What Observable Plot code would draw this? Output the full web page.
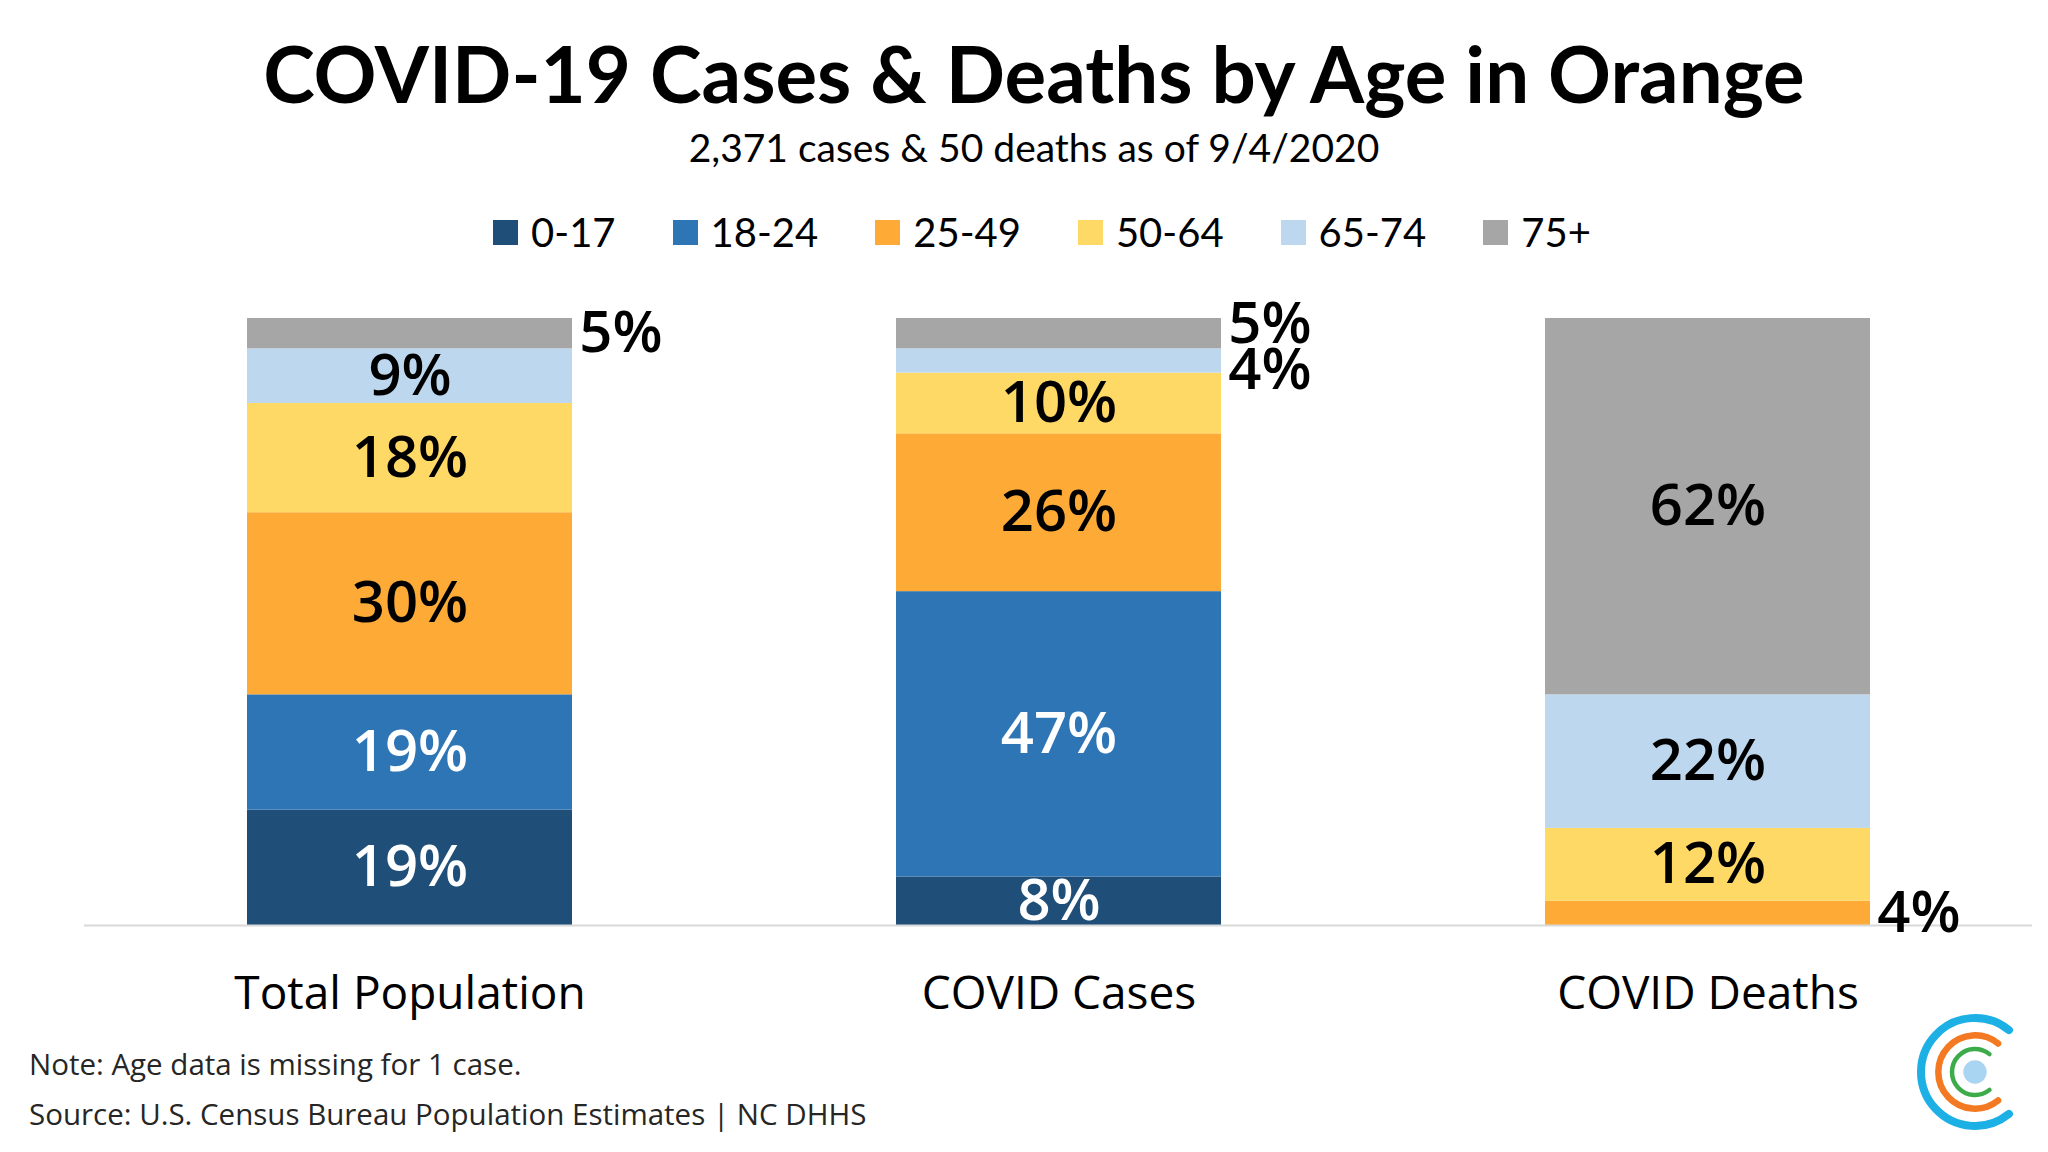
<!DOCTYPE html>
<html>
<head>
<meta charset="utf-8">
<script src="https://cdn.jsdelivr.net/npm/d3@7"></script>
<script src="https://cdn.jsdelivr.net/npm/@observablehq/plot@0.6"></script>
<style>
  body { margin: 0; background: #fff; }
  #page { position: relative; width: 2048px; height: 1152px; overflow: hidden; background: #fff; color: #000; }
  #title { position: absolute; left: 20px; width: 2028px; top: 34px; text-align: center;
           font-family: Lato, "Open Sans", sans-serif; font-weight: 700; font-size: 78px; line-height: 1; }
  #subtitle { position: absolute; left: 20px; width: 2028px; top: 128px; text-align: center;
              font-family: Lato, "Open Sans", sans-serif; font-size: 39px; line-height: 1; }
  #legend { position: absolute; left: 36px; width: 2012px; top: 212px; display: flex; justify-content: center;
            gap: 57px; font-family: Lato, "Open Sans", sans-serif; font-size: 40px; line-height: 40px; }
  .item { display: flex; align-items: center; }
  .sw { width: 25px; height: 25px; margin-right: 13px; }
  #chart { position: absolute; left: 0; top: 280px; }
  .note { position: absolute; left: 29px; font-family: "Open Sans", sans-serif; font-size: 29.5px; line-height: 1; color: #262626; }
  #logo { position: absolute; left: 1911px; top: 1008px; }
</style>
</head>
<body>
<div id="page">
  <div id="title">COVID-19 Cases &amp; Deaths by Age in Orange</div>
  <div id="subtitle">2,371 cases &amp; 50 deaths as of 9/4/2020</div>
  <div id="legend"></div>
  <div id="chart"></div>
  <div class="note" style="top:1049px">Note: Age data is missing for 1 case.</div>
  <div class="note" style="top:1099px">Source: U.S. Census Bureau Population Estimates | NC DHHS</div>
  <svg id="logo" width="128" height="128"></svg>
</div>
<script>
// ---- data ----
const groups = ["Total Population", "COVID Cases", "COVID Deaths"];
const ages = ["0-17", "18-24", "25-49", "50-64", "65-74", "75+"];
const populationPct = [19, 19, 30, 18, 9, 5];
const casesPct = [8, 47, 26, 10, 4, 5];
const deathsPct = [0, 0, 4, 12, 22, 62];

// ---- styles ----
const ageColors = ["#1f4e79", "#2e75b6", "#fdab36", "#ffd966", "#bdd7ee", "#a6a6a6"];
const whiteTextAges = new Set(["0-17", "18-24"]);

// ---- build table ----
const seriesByGroup = [populationPct, casesPct, deathsPct];
const rows = [];
groups.forEach((g, gi) => {
  let acc = 0;
  ages.forEach((a, ai) => {
    const v = seriesByGroup[gi][ai];
    rows.push({ group: g, age: a, value: v, mid: acc + v / 2 });
    acc += v;
  });
});
const labeled = rows.filter(d => d.value > 0);
const inside = labeled.filter(d => d.value > 5);
const outside = labeled.filter(d => d.value <= 5).map(d => ({ ...d, labelY: d.mid }));
// spread apart outside labels that would overlap within the same bar
const minGap = 7.6;
groups.forEach(g => {
  const list = outside.filter(d => d.group === g).sort((a, b) => a.labelY - b.labelY);
  for (let i = 1; i < list.length; i++) {
    const lo = list[i - 1], hi = list[i];
    if (hi.labelY - lo.labelY < minGap) {
      const m = (hi.labelY + lo.labelY) / 2;
      lo.labelY = m - minGap / 2;
      hi.labelY = m + minGap / 2;
    }
  }
});

// ---- legend ----
const legend = document.getElementById("legend");
ages.forEach((a, i) => {
  const it = document.createElement("div");
  it.className = "item";
  it.innerHTML = `<span class="sw" style="background:${ageColors[i]}"></span><span>${a}</span>`;
  legend.appendChild(it);
});

// ---- chart ----
const W = 2048, H = 760, ML = 84, MR = 16;
const step = (W - ML - MR) / groups.length;
const bandwidth = step * 0.5;
const labelFont = 58;

const chart = Plot.plot({
  width: W, height: H,
  marginLeft: ML, marginRight: MR, marginTop: 38, marginBottom: 115,
  style: { fontFamily: "'Open Sans', sans-serif", background: "transparent", color: "#000", overflow: "visible" },
  x: { domain: groups, paddingInner: 0.5, paddingOuter: 0.25, label: null },
  y: { domain: [0, 100], axis: null },
  color: { domain: ages, range: ageColors },
  marks: [
    Plot.barY(rows, { x: "group", y: "value", fill: "age" }),
    Plot.ruleY([0], { stroke: "#d9d9d9", strokeWidth: 2 }),
    Plot.text(inside.filter(d => whiteTextAges.has(d.age)), {
      x: "group", y: "mid", text: d => d.value + "%", fill: "#fff", fontSize: labelFont, fontWeight: 600
    }),
    Plot.text(inside.filter(d => !whiteTextAges.has(d.age)), {
      x: "group", y: "mid", text: d => d.value + "%", fill: "#000", fontSize: labelFont, fontWeight: 600
    }),
    Plot.text(outside, {
      x: "group", y: "labelY", text: d => d.value + "%", fill: "#000", fontSize: labelFont, fontWeight: 600,
      textAnchor: "start", dx: bandwidth / 2 + 7
    }),
    Plot.axisX({ tickSize: 0, tickPadding: 51, fontSize: 46, fill: "#000", label: null })
  ]
});
document.getElementById("chart").appendChild(chart);

// ---- logo ----
const logo = d3.select("#logo");
const cx = 64, cy = 64, a = 51 * Math.PI / 180;
[[54, 8, "#1cb0e4"], [36.7, 6.5, "#f37a23"], [23, 4.5, "#3cab4a"]].forEach(([r, w, c]) => {
  const p = d3.path();
  p.arc(cx, cy, r, -a, a, true);
  logo.append("path").attr("d", p.toString()).attr("fill", "none")
    .attr("stroke", c).attr("stroke-width", w).attr("stroke-linecap", "round");
});
logo.append("circle").attr("cx", cx).attr("cy", cy).attr("r", 11.7).attr("fill", "#a9d4f2");
</script>
</body>
</html>
